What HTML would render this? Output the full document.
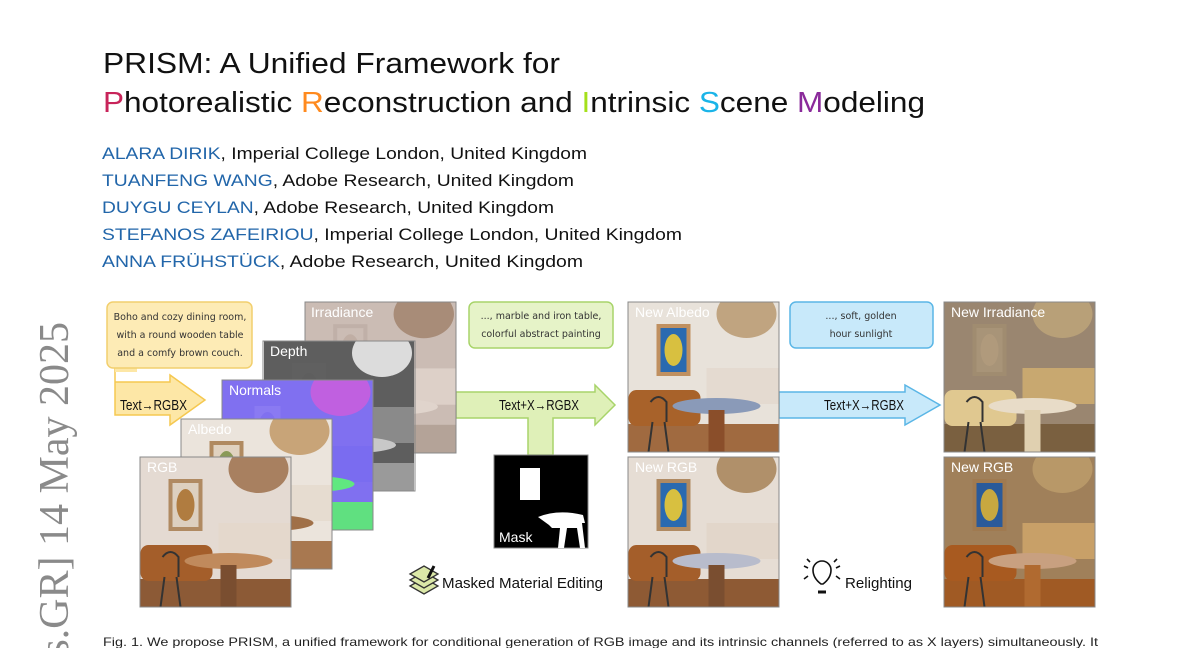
<!DOCTYPE html>
<html><head><meta charset="utf-8"><style>
html,body{margin:0;padding:0;background:#fff;}
body{width:1200px;height:648px;overflow:hidden;position:relative;}
svg{position:absolute;left:0;top:0;}
</style></head><body>
<svg width="1200" height="648" viewBox="0 0 1200 648" overflow="hidden" xmlns="http://www.w3.org/2000/svg" font-family="Liberation Sans, DejaVu Sans, sans-serif">
<defs>
  <clipPath id="frame"><rect x="0" y="0" width="1200" height="648"/></clipPath>
  <symbol id="room" viewBox="0 0 150 150">
    <rect width="150" height="150" fill="var(--wall)"/>
    <rect x="0" y="122" width="150" height="28" fill="var(--floor)"/>
    <ellipse cx="118" cy="12" rx="30" ry="24" fill="var(--lamp)"/>
    <rect x="28" y="22" width="34" height="52" fill="var(--frame)"/>
    <rect x="32" y="26" width="26" height="44" fill="var(--paint)"/>
    <ellipse cx="45" cy="48" rx="9" ry="16" fill="var(--blob)"/>
    <rect x="78" y="66" width="72" height="36" fill="var(--side)"/>
    <rect x="0" y="88" width="72" height="36" rx="8" fill="var(--couch)"/>
    <ellipse cx="88" cy="104" rx="44" ry="8" fill="var(--table)"/>
    <rect x="80" y="108" width="16" height="42" fill="var(--leg)"/>
    <path d="M22 100 q8 -10 16 0 l0 20 M24 120 l-4 30 M36 120 l4 30" stroke="#333" stroke-width="2" fill="none"/>
  </symbol>
</defs>

<!-- Title -->
<text x="103" y="73" font-size="29" fill="#111" textLength="457" lengthAdjust="spacingAndGlyphs">PRISM: A Unified Framework for</text>
<text x="103" y="112" font-size="29" fill="#111" textLength="822" lengthAdjust="spacingAndGlyphs"><tspan fill="#c8245a">P</tspan>hotorealistic <tspan fill="#ff8a1e">R</tspan>econstruction and <tspan fill="#a4e01a">I</tspan>ntrinsic <tspan fill="#1ab4e8">S</tspan>cene <tspan fill="#8a2a9a">M</tspan>odeling</text>

<!-- Authors -->
<g font-size="17" fill="#111">
<text x="102" y="159" textLength="485" lengthAdjust="spacingAndGlyphs"><tspan fill="#2266aa">ALARA DIRIK</tspan>, Imperial College London, United Kingdom</text>
<text x="102" y="186" textLength="472" lengthAdjust="spacingAndGlyphs"><tspan fill="#2266aa">TUANFENG WANG</tspan>, Adobe Research, United Kingdom</text>
<text x="102" y="213" textLength="452" lengthAdjust="spacingAndGlyphs"><tspan fill="#2266aa">DUYGU CEYLAN</tspan>, Adobe Research, United Kingdom</text>
<text x="102" y="240" textLength="580" lengthAdjust="spacingAndGlyphs"><tspan fill="#2266aa">STEFANOS ZAFEIRIOU</tspan>, Imperial College London, United Kingdom</text>
<text x="102" y="267" textLength="481" lengthAdjust="spacingAndGlyphs"><tspan fill="#2266aa">ANNA FRÜHSTÜCK</tspan>, Adobe Research, United Kingdom</text>
</g>

<!-- arXiv side text -->
<g clip-path="url(#frame)">
<text transform="translate(68,322) rotate(-90)" text-anchor="end" font-family="Liberation Serif, serif" font-size="42" fill="#8a8a8a">cs.GR]  14 May 2025</text>
</g>

<!-- Yellow text box & arrow -->
<path d="M115 368 V385 H170 V378 L205 403 L170 428 V418 H115 Z" fill="#fde7a6" stroke="#f5c850" stroke-width="1.5" transform="translate(0,-3)"/>
<rect x="115" y="366" width="22" height="6" fill="#fde7a6"/>
<rect x="107" y="302" width="145" height="66" rx="6" fill="#fdebb5" stroke="#f2cf6e" stroke-width="1.5"/>
<g font-family="DejaVu Sans, sans-serif" font-size="9.5" fill="#333" text-anchor="middle">
<text x="180" y="320">Boho and cozy dining room,</text>
<text x="180" y="338">with a round wooden table</text>
<text x="180" y="356">and a comfy brown couch.</text>
</g>
<text x="120" y="410" font-size="15" fill="#111" textLength="67" lengthAdjust="spacingAndGlyphs">Text→RGBX</text>

<!-- Green arrow -->
<path d="M456 392 H595 V385 L615 405 L595 425 V418 H553 V455 H528 V418 H456 Z" fill="#dff0b8" stroke="#a8d46a" stroke-width="1.5"/>
<rect x="469" y="302" width="144" height="46" rx="6" fill="#e6f3c8" stroke="#a8d46a" stroke-width="1.5"/>
<g font-family="DejaVu Sans, sans-serif" font-size="9.5" fill="#333" text-anchor="middle">
<text x="541" y="319">..., marble and iron table,</text>
<text x="541" y="337">colorful abstract painting</text>
</g>
<text x="499" y="410" font-size="15" fill="#111" textLength="80" lengthAdjust="spacingAndGlyphs">Text+X→RGBX</text>

<!-- Blue arrow -->
<path d="M779 392 H905 V385 L940 405 L905 425 V418 H779 Z" fill="#c8e9fa" stroke="#5ab6e6" stroke-width="1.5"/>
<rect x="790" y="302" width="143" height="46" rx="6" fill="#c8e9fa" stroke="#5ab6e6" stroke-width="1.5"/>
<g font-family="DejaVu Sans, sans-serif" font-size="9.5" fill="#333" text-anchor="middle">
<text x="861" y="319">..., soft, golden</text>
<text x="861" y="337">hour sunlight</text>
</g>
<text x="824" y="410" font-size="15" fill="#111" textLength="80" lengthAdjust="spacingAndGlyphs">Text+X→RGBX</text>

<!-- Stack of images -->
<g>
 <svg x="305" y="302" width="151" height="151" style="--wall:#cbbcb4;--floor:#b4a398;--lamp:#a88c78;--frame:#c0b0a8;--paint:#cbbcb4;--blob:#c0aea4;--side:#ddd0c8;--couch:#c0b0a8;--table:#e0d4cc;--leg:#d8c8c0"><use href="#room"/></svg>
 <rect x="305" y="302" width="151" height="151" fill="none" stroke="#888"/>
 <text x="311" y="317" font-size="14" fill="#fff">Irradiance</text>

 <svg x="263" y="341" width="152" height="150" style="--wall:#5e5e5e;--floor:#9a9a9a;--lamp:#dcdcdc;--frame:#606060;--paint:#606060;--blob:#5e5e5e;--side:#8a8a8a;--couch:#7a7a7a;--table:#c8c8c8;--leg:#b0b0b0"><use href="#room"/></svg>
 <rect x="263" y="341" width="152" height="150" fill="none" stroke="#888"/>
 <text x="270" y="356" font-size="14" fill="#fff">Depth</text>

 <svg x="222" y="380" width="151" height="150" style="--wall:#8070f0;--floor:#60e080;--lamp:#c060e0;--frame:#8070f0;--paint:#8a7af2;--blob:#8070f0;--side:#7a6cf0;--couch:#8070f0;--table:#60e880;--leg:#8070f0"><use href="#room"/></svg>
 <rect x="222" y="380" width="151" height="150" fill="none" stroke="#888"/>
 <text x="229" y="395" font-size="14" fill="#fff">Normals</text>

 <svg x="181" y="419" width="151" height="150" style="--wall:#ebe4dc;--floor:#a87850;--lamp:#c8a478;--frame:#b08a60;--paint:#e0d2c0;--blob:#8a9a58;--side:#e6dcd0;--couch:#b87030;--table:#a07048;--leg:#8a5a3a"><use href="#room"/></svg>
 <rect x="181" y="419" width="151" height="150" fill="none" stroke="#888"/>
 <text x="188" y="434" font-size="14" fill="#fff">Albedo</text>

 <svg x="140" y="457" width="151" height="150" style="--wall:#e4dad2;--floor:#8c5a36;--lamp:#a88060;--frame:#b08a62;--paint:#ddd0c0;--blob:#b07c40;--side:#e4d8cc;--couch:#a45e2a;--table:#c08a5c;--leg:#7a4e30"><use href="#room"/></svg>
 <rect x="140" y="457" width="151" height="150" fill="none" stroke="#888"/>
 <text x="147" y="472" font-size="14" fill="#fff">RGB</text>
</g>

<!-- Mask -->
<rect x="494" y="455" width="94" height="93" fill="#000" stroke="#888"/>
<rect x="520" y="468" width="20" height="32" fill="#fff"/>
<path d="M538 517 q20 -8 45 -2 l2 8 l-3 0 l3 25 h-5 l-3 -20 h-10 l-3 20 h-6 l2 -20 h-8 l-3 -3 z" fill="#fff"/>
<text x="499" y="542" font-size="14" fill="#fff">Mask</text>

<!-- Masked Material Editing icon -->
<g stroke="#333" stroke-width="1.3" fill="#dbe8a8">
 <path d="M410 586 l14 -8 l14 8 l-14 8 z"/>
 <path d="M410 580 l14 -8 l14 8 l-14 8 z"/>
 <path d="M410 574 l14 -8 l14 8 l-14 8 z"/>
</g>
<path d="M428 578 l6 -12" stroke="#111" stroke-width="3"/>
<text x="442" y="588" font-size="15" fill="#111" textLength="161" lengthAdjust="spacingAndGlyphs">Masked Material Editing</text>

<!-- Right column images -->
<svg x="628" y="302" width="151" height="150" style="--wall:#e8e2da;--floor:#a06a40;--lamp:#c0a480;--frame:#c09060;--paint:#2a6ab0;--blob:#d8c040;--side:#e4dad0;--couch:#a8622a;--table:#8a9ab8;--leg:#8a4e2a"><use href="#room"/></svg>
<rect x="628" y="302" width="151" height="150" fill="none" stroke="#888"/>
<text x="635" y="317" font-size="14" fill="#fff">New Albedo</text>

<svg x="628" y="457" width="151" height="150" style="--wall:#e6ddd4;--floor:#8e5a34;--lamp:#b0906a;--frame:#b08a62;--paint:#2a6ab0;--blob:#d8c040;--side:#e2d6ca;--couch:#a45e2a;--table:#b8bccc;--leg:#7a4e30"><use href="#room"/></svg>
<rect x="628" y="457" width="151" height="150" fill="none" stroke="#888"/>
<text x="635" y="472" font-size="14" fill="#fff">New RGB</text>

<svg x="944" y="302" width="151" height="150" style="--wall:#9a8670;--floor:#7a6040;--lamp:#b8a078;--frame:#a08c70;--paint:#a89478;--blob:#b09a7c;--side:#c8a870;--couch:#e0c890;--table:#e8dcc8;--leg:#e0d0b0"><use href="#room"/></svg>
<rect x="944" y="302" width="151" height="150" fill="none" stroke="#888"/>
<text x="951" y="317" font-size="14" fill="#fff">New Irradiance</text>

<svg x="944" y="457" width="151" height="150" style="--wall:#a0805a;--floor:#a05a24;--lamp:#b89868;--frame:#a07a50;--paint:#2a5a9a;--blob:#c8a840;--side:#c8a068;--couch:#a85a20;--table:#c8a080;--leg:#b06a30"><use href="#room"/></svg>
<rect x="944" y="457" width="151" height="150" fill="none" stroke="#888"/>
<text x="951" y="472" font-size="14" fill="#fff">New RGB</text>

<!-- Relighting icon -->
<g stroke="#111" stroke-width="1.6" fill="none">
 <path d="M816 584 q-8 -6 -8 -14 a9 9 0 0 1 18 0 q0 8 -8 14 z" fill="#fff" transform="translate(5,0)"/>
 <line x1="818" y1="592" x2="826" y2="592" stroke-width="3"/>
 <line x1="808" y1="568" x2="804" y2="566"/><line x1="810" y1="562" x2="807" y2="559"/>
 <line x1="836" y1="568" x2="840" y2="566"/><line x1="834" y1="562" x2="837" y2="559"/>
 <line x1="808" y1="576" x2="804" y2="579"/><line x1="836" y1="576" x2="840" y2="579"/>
</g>
<text x="845" y="588" font-size="15" fill="#111" textLength="67" lengthAdjust="spacingAndGlyphs">Relighting</text>

<!-- Caption -->
<text x="103" y="646" font-size="12" fill="#222" textLength="995" lengthAdjust="spacingAndGlyphs">Fig. 1.  We propose PRISM, a unified framework for conditional generation of RGB image and its intrinsic channels (referred to as X layers) simultaneously. It</text>
</svg>
</body></html>
